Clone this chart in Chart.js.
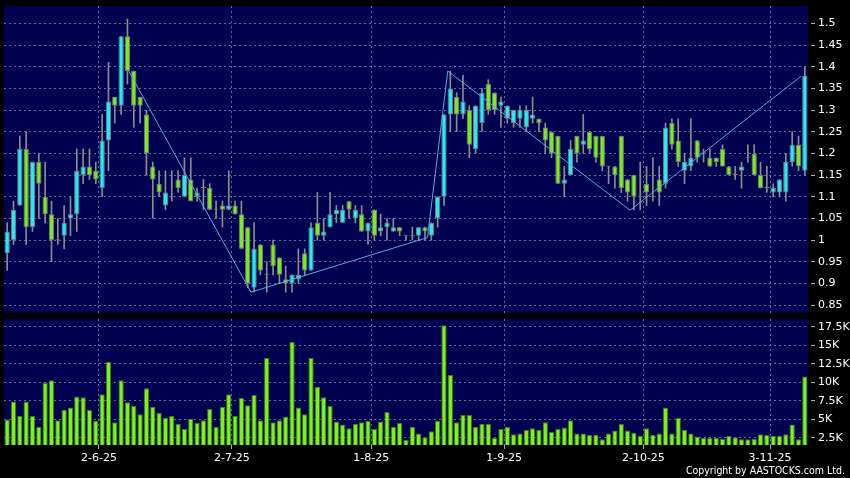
<!DOCTYPE html>
<html>
<head>
<meta charset="utf-8">
<script src="https://cdn.jsdelivr.net/npm/chart.js@4"></script>
<style>
  html, body { margin: 0; padding: 0; background: #000; }
  #wrap { position: relative; width: 850px; height: 478px; background: #000; overflow: hidden; }
  #price { position: absolute; left: 0; top: 0; }
  #volume { position: absolute; left: 0; top: 316px; }
  #copy { position: absolute; right: 5px; top: 464px; color: #fff; font: 10.5px "DejaVu Sans Condensed", "DejaVu Sans"; line-height: 13px; }
</style>
</head>
<body>
<div id="wrap">
  <canvas id="price" width="850" height="316"></canvas>
  <canvas id="volume" width="850" height="162"></canvas>
  <div id="copy">Copyright by AASTOCKS.com Ltd.</div>
</div>
<script>
// trading days
const categories = ('12-5-25 13-5-25 14-5-25 15-5-25 16-5-25 19-5-25 20-5-25 21-5-25 22-5-25 23-5-25 26-5-25 27-5-25 28-5-25 29-5-25 30-5-25 ' +
  '2-6-25 3-6-25 4-6-25 5-6-25 6-6-25 9-6-25 10-6-25 11-6-25 12-6-25 13-6-25 16-6-25 17-6-25 18-6-25 19-6-25 20-6-25 23-6-25 24-6-25 25-6-25 26-6-25 27-6-25 30-6-25 ' +
  '2-7-25 3-7-25 4-7-25 7-7-25 8-7-25 9-7-25 10-7-25 11-7-25 14-7-25 15-7-25 16-7-25 17-7-25 18-7-25 21-7-25 22-7-25 23-7-25 24-7-25 25-7-25 28-7-25 29-7-25 30-7-25 31-7-25 ' +
  '1-8-25 4-8-25 5-8-25 6-8-25 7-8-25 8-8-25 11-8-25 12-8-25 13-8-25 14-8-25 15-8-25 18-8-25 19-8-25 20-8-25 21-8-25 22-8-25 25-8-25 26-8-25 27-8-25 28-8-25 29-8-25 ' +
  '1-9-25 2-9-25 3-9-25 4-9-25 5-9-25 8-9-25 9-9-25 10-9-25 11-9-25 12-9-25 15-9-25 16-9-25 17-9-25 18-9-25 19-9-25 22-9-25 23-9-25 24-9-25 25-9-25 26-9-25 29-9-25 30-9-25 ' +
  '2-10-25 3-10-25 6-10-25 8-10-25 9-10-25 10-10-25 13-10-25 14-10-25 15-10-25 16-10-25 17-10-25 20-10-25 21-10-25 22-10-25 23-10-25 24-10-25 27-10-25 28-10-25 30-10-25 31-10-25 ' +
  '3-11-25 4-11-25 5-11-25 6-11-25 7-11-25 10-11-25').split(' ');

const open = [0.97,1.00,1.08,1.21,1.03,1.18,1.10,1.06,1.00,1.01,1.05,1.06,1.15,1.17,1.16,1.12,1.23,1.33,1.31,1.47,
  1.39,1.33,1.29,1.17,1.13,1.08,1.10,1.14,1.10,1.14,1.10,1.12,1.12,1.07,1.08,1.07,1.08,1.06,1.03,0.89,
  0.99,0.92,0.99,0.96,0.91,0.90,0.91,0.97,0.93,1.04,1.01,1.03,1.06,1.04,1.09,1.05,1.06,1.02,1.07,1.02,
  1.03,1.02,1.03,1.01,1.01,1.01,1.03,1.01,1.05,1.10,1.29,1.33,1.29,1.30,1.21,1.27,1.36,1.34,1.31,1.28,
  1.27,1.28,1.26,1.28,1.28,1.26,1.25,1.24,1.13,1.15,1.24,1.22,1.25,1.24,1.24,1.17,1.17,1.24,1.14,1.15,
  1.10,1.13,1.10,1.14,1.13,1.27,1.23,1.16,1.17,1.23,1.20,1.19,1.19,1.21,1.17,1.15,1.16,1.19,1.20,1.15,
  1.12,1.11,1.11,1.11,1.18,1.22,1.16];
const high = [1.04,1.09,1.24,1.25,1.18,1.20,1.18,1.09,1.05,1.08,1.10,1.21,1.21,1.21,1.18,1.29,1.41,1.33,1.47,1.51,
  1.39,1.33,1.30,1.18,1.16,1.16,1.16,1.16,1.19,1.19,1.12,1.14,1.13,1.09,1.09,1.16,1.09,1.09,1.03,1.04,
  0.99,0.95,1.00,0.96,0.94,0.92,0.98,0.98,1.04,1.11,1.05,1.11,1.08,1.08,1.09,1.08,1.08,1.04,1.07,1.06,
  1.05,1.05,1.03,1.01,1.03,1.03,1.03,1.04,1.10,1.29,1.39,1.34,1.38,1.31,1.31,1.35,1.37,1.34,1.33,1.31,
  1.30,1.31,1.31,1.33,1.28,1.27,1.25,1.24,1.17,1.23,1.24,1.29,1.25,1.24,1.24,1.17,1.17,1.24,1.14,1.15,
  1.18,1.17,1.19,1.17,1.27,1.28,1.28,1.20,1.28,1.23,1.21,1.21,1.19,1.22,1.17,1.17,1.18,1.22,1.22,1.18,
  1.17,1.13,1.14,1.20,1.25,1.24,1.40];
const low = [0.93,0.99,1.08,0.99,1.02,1.05,1.04,0.95,0.99,0.98,1.01,1.02,1.13,1.14,1.13,1.10,1.16,1.27,1.29,1.36,
  1.26,1.27,1.15,1.05,1.10,1.07,1.09,1.11,1.10,1.09,1.09,1.07,1.07,1.05,1.03,1.07,1.06,0.98,0.89,0.88,
  0.92,0.88,0.92,0.90,0.88,0.88,0.90,0.92,0.93,1.00,1.00,1.03,1.04,1.04,1.05,1.04,1.02,0.99,1.00,1.01,
  1.00,1.02,1.01,1.00,1.00,1.00,1.00,1.00,1.03,1.08,1.25,1.25,1.28,1.19,1.20,1.25,1.29,1.29,1.26,1.27,
  1.26,1.26,1.25,1.27,1.25,1.20,1.19,1.13,1.10,1.15,1.18,1.20,1.20,1.18,1.16,1.13,1.12,1.11,1.09,1.07,
  1.07,1.08,1.09,1.08,1.12,1.21,1.17,1.13,1.16,1.18,1.18,1.17,1.17,1.17,1.15,1.14,1.12,1.18,1.15,1.12,
  1.11,1.10,1.10,1.09,1.17,1.16,1.15];
const close = [1.02,1.07,1.21,1.03,1.18,1.13,1.06,1.00,1.00,1.04,1.06,1.16,1.17,1.15,1.14,1.23,1.32,1.31,1.47,1.39,
  1.31,1.31,1.20,1.14,1.11,1.11,1.10,1.12,1.15,1.09,1.11,1.12,1.07,1.07,1.07,1.08,1.06,0.98,0.90,0.98,
  0.93,0.92,0.94,0.92,0.90,0.92,0.92,0.93,1.03,1.01,1.02,1.06,1.07,1.07,1.07,1.07,1.02,1.04,1.01,1.03,
  1.04,1.03,1.02,1.01,1.01,1.03,1.02,1.04,1.10,1.29,1.35,1.29,1.32,1.22,1.31,1.34,1.30,1.30,1.32,1.31,
  1.30,1.30,1.30,1.29,1.27,1.23,1.20,1.13,1.14,1.21,1.20,1.23,1.21,1.19,1.17,1.17,1.15,1.12,1.11,1.10,
  1.10,1.11,1.10,1.11,1.26,1.22,1.18,1.18,1.19,1.19,1.20,1.17,1.18,1.17,1.15,1.15,1.17,1.19,1.15,1.12,
  1.12,1.12,1.14,1.18,1.22,1.17,1.38];
const volume = [5000,7400,5500,7400,5500,4000,9900,10300,4900,6300,6600,8100,8000,6300,4800,8400,12800,4600,10300,7300,
  6800,5700,9200,6700,5900,5200,5500,4400,3700,5100,4500,4900,6400,4000,6700,8400,5500,7900,6900,8300,
  4900,13300,4600,4900,5400,15500,6600,5700,13300,9400,8000,6800,4700,4300,3800,4400,4600,4800,3700,4700,
  6000,4000,4500,2200,4000,3100,2600,3400,4800,17700,11000,4600,5600,5600,4000,4400,4400,2500,3700,4000,
  3000,3100,3600,3800,3600,4600,3300,3700,3900,4900,3100,3100,2900,2900,2300,3100,3500,4400,3500,3200,
  2800,3800,2900,3100,6600,3100,5200,3600,3100,2700,2500,2500,2500,2400,2800,2600,2300,2300,2400,3000,
  2900,2800,2800,3000,4300,2300,10800];

// zigzag turning points (position in trading-day index, price)
const zigIdx = [19.2, 38.5, 66.4, 69.6, 98.4, 125.4];
const zigVal = [1.39, 0.88, 1.006, 1.39, 1.069, 1.378];

const monthTicks = ['2-6-25', '2-7-25', '1-8-25', '1-9-25', '2-10-25', '3-11-25'];
const priceTicks = [0.85, 0.9, 0.95, 1, 1.05, 1.1, 1.15, 1.2, 1.25, 1.3, 1.35, 1.4, 1.45, 1.5];
const volTicks = [2500, 5000, 7500, 10000, 12500, 15000, 17500];

const n = categories.length;
const navy = '#000050';
const gridColor = 'rgba(140,140,170,0.75)';
const upColor = '#2ee6ee';
const downColor = '#80e81e';
const font = { family: 'DejaVu Sans', size: 11 };

const areaBg = {
  id: 'areaBg',
  beforeDraw(chart) {
    const a = chart.chartArea, ctx = chart.ctx;
    ctx.save();
    ctx.fillStyle = navy;
    ctx.fillRect(a.left, a.top, a.right - a.left, a.bottom - a.top);
    ctx.restore();
  }
};

function noPad(s) {
  s.paddingTop = 0; s.paddingBottom = 0; s.paddingLeft = 0; s.paddingRight = 0;
}

function monthAxis(showLabels) {
  return {
    type: 'linear', position: 'bottom', min: -0.5, max: n - 0.5, offset: false,
    afterBuildTicks: s => { s.ticks = monthTicks.map(l => ({ value: categories.indexOf(l) - 0.5 })); },
    afterFit: s => { s.height = showLabels ? 33 : 0; noPad(s); },
    grid: { offset: false, color: gridColor, drawTicks: showLabels, tickColor: '#aaa', tickLength: 4 },
    border: { display: false, dash: [2, 3] },
    ticks: { display: showLabels, color: '#fff', font: font, padding: 3, maxRotation: 0, autoSkip: false,
      callback: v => categories[Math.round(v + 0.5)] }
  };
}

function rightAxis(min, max, ticks, fmt) {
  return {
    position: 'right', min: min, max: max,
    afterBuildTicks: s => { s.ticks = ticks.map(v => ({ value: v })); },
    afterFit: s => { s.width = 42; noPad(s); },
    grid: { color: gridColor, tickColor: '#aaa', tickLength: 7, tickBorderDash: [0, 3, 4, 20] },
    border: { display: false, dash: [2, 3] },
    ticks: { color: '#fff', font: font, padding: 3, callback: fmt }
  };
}

const bodyColor = open.map((o, i) => close[i] > o ? upColor : (close[i] < o ? downColor : '#999'));

new Chart(document.getElementById('price'), {
  type: 'bar',
  data: {
    labels: categories,
    datasets: [
      {
        data: low.map((l, i) => [l, high[i]]),
        xAxisID: 'x', backgroundColor: '#8c8c8c', barThickness: 1, grouped: false, order: 3
      },
      {
        data: open.map((o, i) => [Math.min(o, close[i]), Math.max(o, close[i])]),
        xAxisID: 'x', backgroundColor: bodyColor, borderColor: '#6f8080', borderWidth: 1,
        borderSkipped: false, minBarLength: 1, barPercentage: 0.84, categoryPercentage: 1,
        grouped: false, order: 2
      },
      {
        type: 'line', xAxisID: 'xg',
        data: zigIdx.map((x, i) => ({ x: x, y: zigVal[i] })),
        borderColor: '#5aa8e0', borderWidth: 1, pointRadius: 0, tension: 0, order: 1
      }
    ]
  },
  options: {
    responsive: false, animation: false,
    layout: { padding: { left: 4, top: 6, bottom: 3, right: 0 } },
    plugins: { legend: { display: false }, tooltip: { enabled: false } },
    scales: {
      x: { type: 'category', display: false },
      xg: monthAxis(false),
      y: rightAxis(0.832, 1.54, priceTicks, v => String(v))
    }
  },
  plugins: [areaBg]
});

new Chart(document.getElementById('volume'), {
  type: 'bar',
  data: {
    labels: categories,
    datasets: [{
      data: volume, xAxisID: 'x',
      backgroundColor: '#7ef01e', borderColor: '#3c7c14', borderWidth: 1, borderSkipped: false,
      barPercentage: 0.84, categoryPercentage: 1
    }]
  },
  options: {
    responsive: false, animation: false,
    layout: { padding: { left: 4, top: 3, bottom: 0, right: 0 } },
    plugins: { legend: { display: false }, tooltip: { enabled: false } },
    scales: {
      x: { type: 'category', display: false },
      xg: monthAxis(true),
      y: rightAxis(1540, 18560, volTicks, v => (v / 1000) + 'K')
    }
  },
  plugins: [areaBg]
});
</script>
</body>
</html>
